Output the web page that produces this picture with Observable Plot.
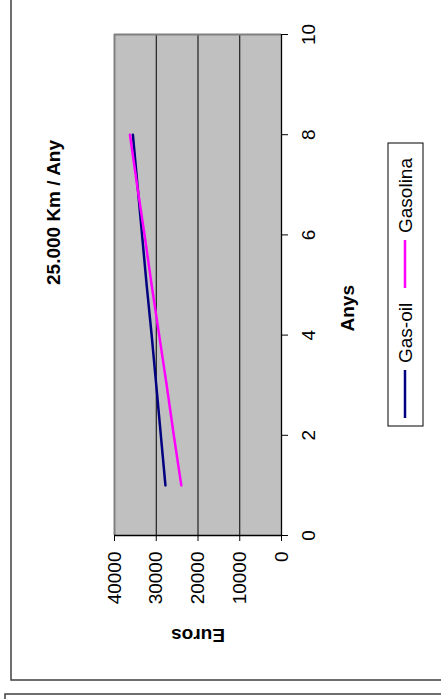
<!DOCTYPE html>
<html><head><meta charset="utf-8">
<script src="https://cdn.jsdelivr.net/npm/d3@7"></script>
<script src="https://cdn.jsdelivr.net/npm/@observablehq/plot@0.6"></script>
<style>body{margin:0;background:#fff} svg{display:block}</style>
</head><body><div id="chart"></div>
<script>
const years = [1, 2, 3, 4, 5, 6, 7, 8];
const gasoil = [27800, 28900, 30000, 31100, 32300, 33400, 34500, 35600];
const gasolina = [24000, 25800, 27500, 29300, 31100, 32800, 34600, 36300];
const seriesNames = ["Gas-oil", "Gasolina"];
const seriesColors = ["#000080", "#ff00ff"];
const euroTicks = [0, 10000, 20000, 30000, 40000];
const yearTicks = [0, 2, 4, 6, 8, 10];
const title = "25.000 Km / Any";
const xTitle = "Anys";
const yTitle = "Euros";

const data = [];
years.forEach((yr, i) => data.push({serie: seriesNames[0], any: yr, euros: gasoil[i]}));
years.forEach((yr, i) => data.push({serie: seriesNames[1], any: yr, euros: gasolina[i]}));

const FONT = "Arial, 'Liberation Sans', sans-serif";
const chart = Plot.plot({
  width: 441, height: 699,
  marginLeft: 114, marginRight: 160, marginTop: 34, marginBottom: 164,
  style: {fontFamily: FONT, fontSize: "19px", background: "white", color: "black"},
  x: {domain: [0, 40000], reverse: true},
  y: {domain: [0, 10]},
  color: {domain: seriesNames, range: seriesColors},
  marks: [
    Plot.frame({fill: "#c0c0c0", stroke: "none"}),
    Plot.ruleX(euroTicks.filter(d => d > 0 && d < 40000), {stroke: "black", strokeWidth: 1}),
    Plot.ruleX([40000], {stroke: "#808080", strokeWidth: 2}),
    Plot.ruleY([10], {stroke: "#808080", strokeWidth: 2}),
    Plot.ruleX([0], {stroke: "black", strokeWidth: 1.3}),
    Plot.ruleY([0], {stroke: "black", strokeWidth: 1.3}),
    Plot.axisX({ticks: euroTicks, tickSize: 6, tickRotate: -90, tickPadding: 10, tickFormat: d => String(d), label: null}),
    Plot.axisY({anchor: "right", ticks: yearTicks, tickSize: 6, tickRotate: -90, lineAnchor: "top", textAnchor: "middle", tickPadding: 14, tickFormat: d => String(d), label: null}),
    Plot.line(data, {x: "euros", y: "any", z: "serie", stroke: "serie", strokeWidth: 2.5}),
    Plot.text([title], {frameAnchor: "left", dx: -61, rotate: -90, fontWeight: "bold"}),
    Plot.text([xTitle], {frameAnchor: "right", dx: 66, rotate: -90, fontWeight: "bold"}),
    Plot.text([yTitle], {frameAnchor: "bottom", dy: 93, rotate: 180, fontWeight: "bold"})
  ]
});
document.getElementById("chart").appendChild(chart);

const svg = d3.select(chart);
// chart frames
svg.append("path").attr("d", "M11,0V680H441").attr("fill", "none").attr("stroke", "#404040").attr("stroke-width", 1.5);
svg.append("path").attr("d", "M5,699V694H441").attr("fill", "none").attr("stroke", "#404040").attr("stroke-width", 1.5);

// legend (rotated like the rest of the chart)
const lg = svg.append("g");
lg.append("rect").attr("x", 388).attr("y", 143).attr("width", 35).attr("height", 283)
  .attr("fill", "white").attr("stroke", "black").attr("stroke-width", 1);
const itemBottoms = [418, 288];
seriesNames.forEach((name, i) => {
  const b = itemBottoms[i];
  lg.append("line").attr("x1", 405).attr("x2", 405).attr("y1", b).attr("y2", b - 48)
    .attr("stroke", seriesColors[i]).attr("stroke-width", 2.5);
  lg.append("text").attr("transform", `translate(405,${b - 55}) rotate(-90)`)
    .attr("text-anchor", "start").attr("dy", "0.35em")
    .attr("font-family", FONT).attr("font-size", 19).attr("fill", "black").text(name);
});
</script>
</body></html>
